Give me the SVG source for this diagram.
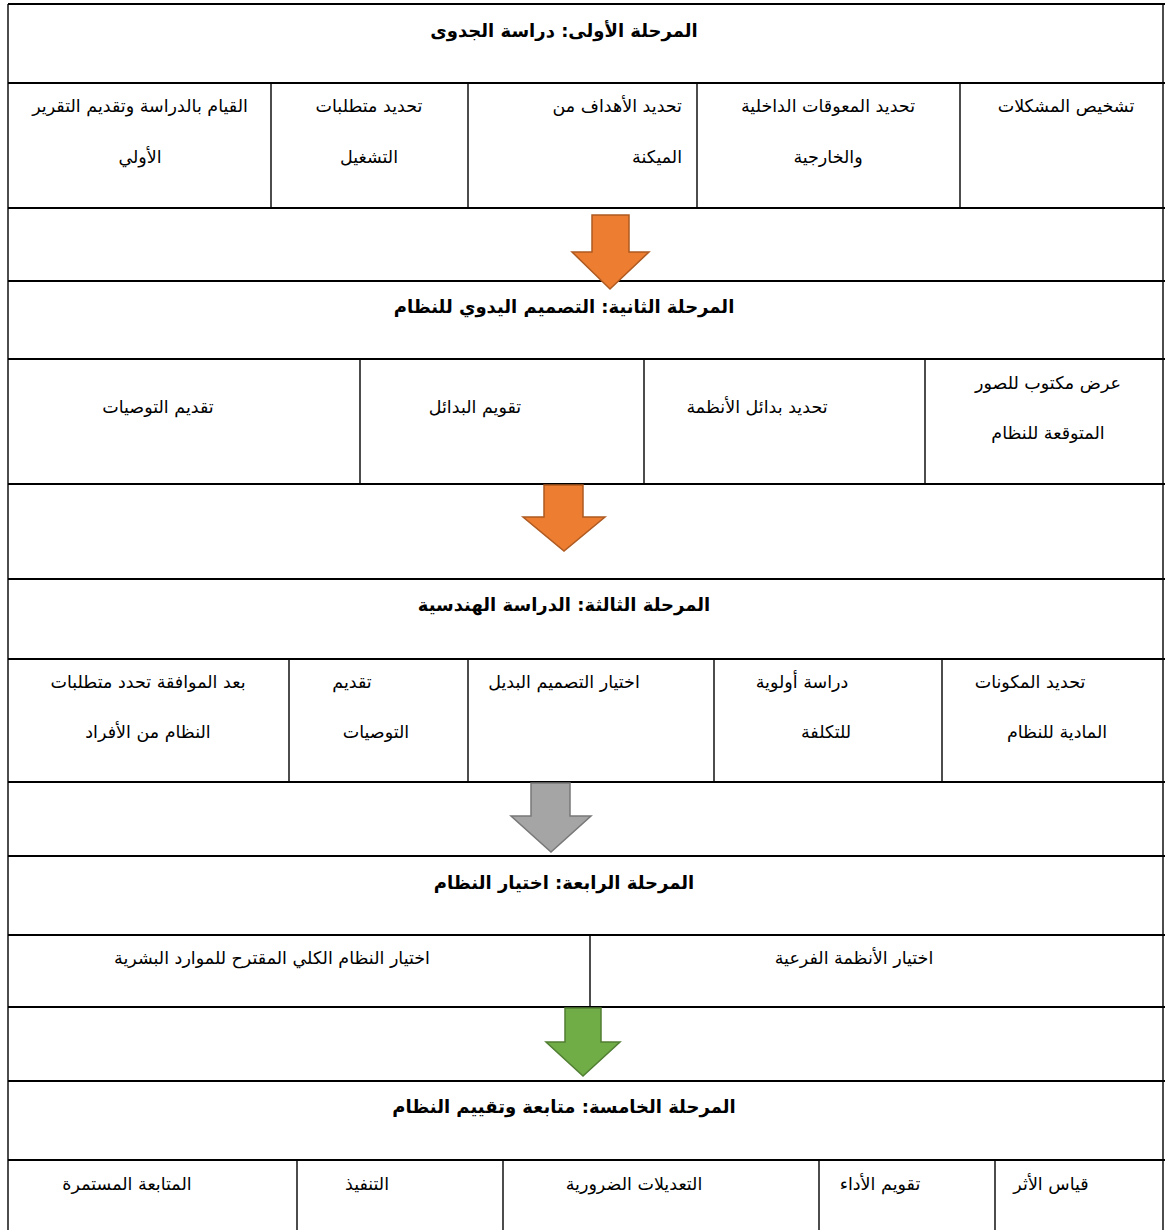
<svg xmlns="http://www.w3.org/2000/svg" width="1165" height="1230" viewBox="0 0 1165 1230">
<style>
  text { font-family: "DejaVu Sans", sans-serif; font-size: 17.5px; fill: #000; direction: rtl; text-anchor: middle; }
  .title { font-weight: bold; font-size: 18px; }
  .h { stroke: #000; stroke-width: 2.2; fill: none; }
  .v { stroke: #000; stroke-width: 1.4; fill: none; }
  .orange { fill: #ED7D31; stroke: #AE5A21; stroke-width: 1.5; }
  .gray { fill: #A5A5A5; stroke: #787878; stroke-width: 1.5; }
  .green { fill: #70AD47; stroke: #507E32; stroke-width: 1.5; }
</style>
<rect x="0" y="0" width="1165" height="1230" fill="#fff"/>

<g id="frame">
  <line class="v" x1="8" y1="4" x2="8" y2="1230"/>
  <line class="v" x1="1163" y1="4" x2="1163" y2="1230"/>
  <line class="h" x1="8" y1="4" x2="1165" y2="4"/>
</g>

<g id="stage1">
  <line class="h" x1="8" y1="83" x2="1165" y2="83"/>
  <line class="h" x1="8" y1="208" x2="1165" y2="208"/>
  <line class="v" x1="271" y1="83" x2="271" y2="208"/>
  <line class="v" x1="468" y1="83" x2="468" y2="208"/>
  <line class="v" x1="697" y1="83" x2="697" y2="208"/>
  <line class="v" x1="960" y1="83" x2="960" y2="208"/>
  <text class="title" x="564" y="37">المرحلة الأولى: دراسة الجدوى</text>
  <text x="1066" y="112">تشخيص المشكلات</text>
  <text x="828" y="112">تحديد المعوقات الداخلية</text>
  <text x="828" y="163">والخارجية</text>
  <text x="682" y="112" style="text-anchor:start">تحديد الأهداف من</text>
  <text x="682" y="163" style="text-anchor:start">الميكنة</text>
  <text x="369" y="112">تحديد متطلبات</text>
  <text x="369" y="163">التشغيل</text>
  <text x="140" y="112">القيام بالدراسة وتقديم التقرير</text>
  <text x="140" y="163">الأولي</text>
</g>

<g id="stage2">
  <line class="h" x1="8" y1="281" x2="1165" y2="281"/>
  <line class="h" x1="8" y1="359" x2="1165" y2="359"/>
  <line class="h" x1="8" y1="484" x2="1165" y2="484"/>
  <line class="v" x1="360" y1="359" x2="360" y2="484"/>
  <line class="v" x1="644" y1="359" x2="644" y2="484"/>
  <line class="v" x1="925" y1="359" x2="925" y2="484"/>
  <text class="title" x="564" y="313">المرحلة الثانية: التصميم اليدوي للنظام</text>
  <text x="1048" y="389">عرض مكتوب للصور</text>
  <text x="1048" y="439">المتوقعة للنظام</text>
  <text x="757" y="413">تحديد بدائل الأنظمة</text>
  <text x="475" y="413">تقويم البدائل</text>
  <text x="158" y="413">تقديم التوصيات</text>
</g>

<g id="stage3">
  <line class="h" x1="8" y1="579" x2="1165" y2="579"/>
  <line class="h" x1="8" y1="659" x2="1165" y2="659"/>
  <line class="h" x1="8" y1="782" x2="1165" y2="782"/>
  <line class="v" x1="289" y1="659" x2="289" y2="782"/>
  <line class="v" x1="468" y1="659" x2="468" y2="782"/>
  <line class="v" x1="714" y1="659" x2="714" y2="782"/>
  <line class="v" x1="942" y1="659" x2="942" y2="782"/>
  <text class="title" x="564" y="611">المرحلة الثالثة: الدراسة الهندسية</text>
  <text x="1030" y="688">تحديد المكونات</text>
  <text x="1057" y="738">المادية للنظام</text>
  <text x="802" y="688">دراسة أولوية</text>
  <text x="826" y="738">للتكلفة</text>
  <text x="564" y="688">اختيار التصميم البديل</text>
  <text x="352" y="688">تقديم</text>
  <text x="376" y="738">التوصيات</text>
  <text x="148" y="688">بعد الموافقة تحدد متطلبات</text>
  <text x="148" y="738">النظام من الأفراد</text>
</g>

<g id="stage4">
  <line class="h" x1="8" y1="856" x2="1165" y2="856"/>
  <line class="h" x1="8" y1="935" x2="1165" y2="935"/>
  <line class="h" x1="8" y1="1007" x2="1165" y2="1007"/>
  <line class="v" x1="590" y1="935" x2="590" y2="1007"/>
  <text class="title" x="564" y="889">المرحلة الرابعة: اختيار النظام</text>
  <text x="854" y="964">اختيار الأنظمة الفرعية</text>
  <text x="272" y="964">اختيار النظام الكلي المقترح للموارد البشرية</text>
</g>

<g id="stage5">
  <line class="h" x1="8" y1="1081" x2="1165" y2="1081"/>
  <line class="h" x1="8" y1="1160" x2="1165" y2="1160"/>
  <line class="v" x1="297" y1="1160" x2="297" y2="1230"/>
  <line class="v" x1="503" y1="1160" x2="503" y2="1230"/>
  <line class="v" x1="819" y1="1160" x2="819" y2="1230"/>
  <line class="v" x1="995" y1="1160" x2="995" y2="1230"/>
  <text class="title" x="564" y="1113">المرحلة الخامسة: متابعة وتقييم النظام</text>
  <text x="1051" y="1190">قياس الأثر</text>
  <text x="880" y="1190">تقويم الأداء</text>
  <text x="634" y="1190">التعديلات الضرورية</text>
  <text x="367" y="1190">التنفيذ</text>
  <text x="127" y="1190">المتابعة المستمرة</text>
</g>

<g id="connectors">
  <polygon class="orange" points="592,215 629,215 629,252 649,252 610,289 572,252 592,252"/>
  <polygon class="orange" points="544,485 583,485 583,517 605,517 564,551 523,517 544,517"/>
  <polygon class="gray" points="531,783 570,783 570,816 591,816 551,852 511,816 531,816"/>
  <polygon class="green" points="565,1008 601,1008 601,1042 620,1042 583,1076 546,1042 565,1042"/>
</g>
</svg>
